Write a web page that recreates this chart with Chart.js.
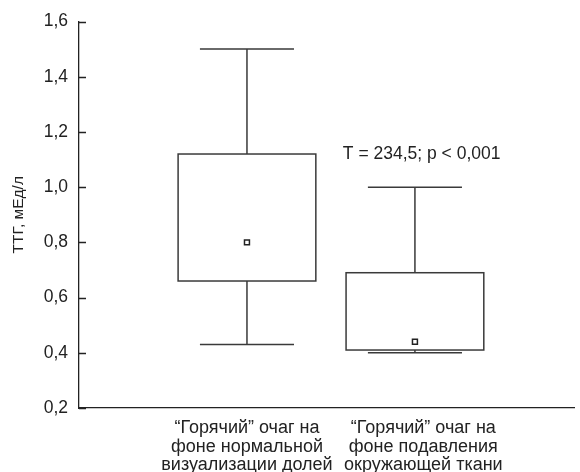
<!DOCTYPE html>
<html>
<head>
<meta charset="utf-8">
<script src="https://cdn.jsdelivr.net/npm/chart.js@4.4.1/dist/chart.umd.min.js"></script>
<style>
  body { margin: 0; background: #fff; }
  #wrap { width: 580px; height: 472px; }
</style>
</head>
<body>
<div id="wrap"><canvas id="grafico"></canvas></div>
<script>
// grupos e valores do box plot
const grupos = [
    ['\u201cГорячий\u201d очаг на', 'фоне нормальной', 'визуализации долей'],
    ['\u201cГорячий\u201d очаг на', 'фоне подавления', 'окружающей ткани']
];
const posicoes = [1, 2];
const posicoesRotulo = [1, 2.05];
const maximos = [1.5, 1.0];
const quartilSup = [1.12, 0.69];
const quartilInf = [0.66, 0.41];
const minimos = [0.43, 0.40];
const medianas = [0.80, 0.44];
const yTicks = [0.2, 0.4, 0.6, 0.8, 1.0, 1.2, 1.4, 1.6];
const nota = 'T = 234,5; p < 0,001';

const corLinha = '#3a3a3a';
const fonte = "'Liberation Sans', Arial, sans-serif";

const desenhaBoxes = {
    id: 'desenhaBoxes',
    beforeDatasetsDraw(chart) {
        const { ctx, scales: { x, y } } = chart;
        ctx.save();
        ctx.strokeStyle = corLinha;
        ctx.lineWidth = 1.5;
        for (let i = 0; i < posicoes.length; i++) {
            const cx = x.getPixelForValue(posicoes[i]);
            const bx0 = x.getPixelForValue(posicoes[i] - 0.41);
            const bx1 = x.getPixelForValue(posicoes[i] + 0.41);
            const cx0 = x.getPixelForValue(posicoes[i] - 0.28);
            const cx1 = x.getPixelForValue(posicoes[i] + 0.28);
            const yMax = y.getPixelForValue(maximos[i]);
            const yQ3 = y.getPixelForValue(quartilSup[i]);
            const yQ1 = y.getPixelForValue(quartilInf[i]);
            const yMin = y.getPixelForValue(minimos[i]);

            ctx.beginPath();
            // bigodes
            ctx.moveTo(cx0, yMax); ctx.lineTo(cx1, yMax);
            ctx.moveTo(cx, yMax); ctx.lineTo(cx, yQ3);
            ctx.moveTo(cx, yQ1); ctx.lineTo(cx, yMin);
            ctx.moveTo(cx0, yMin); ctx.lineTo(cx1, yMin);
            ctx.stroke();
            // caixa
            ctx.fillStyle = '#fff';
            ctx.fillRect(bx0, yQ3, bx1 - bx0, yQ1 - yQ3);
            ctx.strokeRect(bx0, yQ3, bx1 - bx0, yQ1 - yQ3);
        }
        ctx.restore();
    },
    afterDraw(chart) {
        const { ctx, chartArea: { left }, scales: { x, y } } = chart;
        ctx.save();
        // marcas dos ticks para dentro
        ctx.strokeStyle = '#222';
        ctx.lineWidth = 1.3;
        ctx.beginPath();
        yTicks.forEach(v => {
            const py = Math.round(y.getPixelForValue(v)) + 0.5;
            ctx.moveTo(left, py);
            ctx.lineTo(left + 7, py);
        });
        ctx.stroke();
        // texto da estatistica
        ctx.fillStyle = '#222';
        ctx.font = `17.5px ${fonte}`;
        ctx.textAlign = 'center';
        ctx.textBaseline = 'middle';
        ctx.fillText(nota, x.getPixelForValue(2.04), y.getPixelForValue(1.12));
        ctx.restore();
    }
};

const ctx = document.getElementById('grafico').getContext('2d');

const config = {
    type: 'scatter',
    data: {
        datasets: [{
            label: 'mediana',
            data: posicoes.map((p, i) => ({ x: p, y: medianas[i] })),
            pointStyle: 'rect',
            pointRadius: 3.5,
            pointBorderWidth: 1.5,
            pointBackgroundColor: '#fff',
            pointBorderColor: '#222'
        }]
    },
    options: {
        responsive: true,
        maintainAspectRatio: false,
        animation: false,
        layout: { padding: { top: 19, right: 0, left: 0, bottom: 0 } },
        plugins: {
            legend: { display: false },
            tooltip: { enabled: false }
        },
        scales: {
            x: {
                type: 'linear',
                min: 0,
                max: 2.95,
                grid: { display: false, drawTicks: false },
                border: { display: true, color: '#222', width: 1.3 },
                afterBuildTicks: (scale) => {
                    scale.ticks = posicoesRotulo.map(v => ({ value: v }));
                },
                afterFit: (scale) => { scale.height = 64; },
                ticks: {
                    autoSkip: false,
                    maxRotation: 0,
                    padding: 11,
                    color: '#222',
                    font: { family: fonte, size: 18, lineHeight: 1.03 },
                    callback: (v, i) => grupos[i]
                }
            },
            y: {
                min: 0.2,
                max: 1.6,
                grid: { display: false, drawTicks: false },
                border: { display: true, color: '#222', width: 1.3 },
                afterBuildTicks: (scale) => {
                    scale.ticks = yTicks.map(v => ({ value: v }));
                },
                afterFit: (scale) => { scale.width = 79; },
                ticks: {
                    padding: 11,
                    color: '#222',
                    font: { family: fonte, size: 17.5 },
                    callback: (v) => v.toFixed(1).replace('.', ',')
                },
                title: {
                    display: true,
                    text: 'ТТГ, мЕд/л',
                    color: '#222',
                    font: { family: fonte, size: 15.5 },
                    padding: { top: 9, bottom: 0 }
                }
            }
        }
    },
    plugins: [desenhaBoxes]
};

const grafico = new Chart(ctx, config);
</script>
</body>
</html>
